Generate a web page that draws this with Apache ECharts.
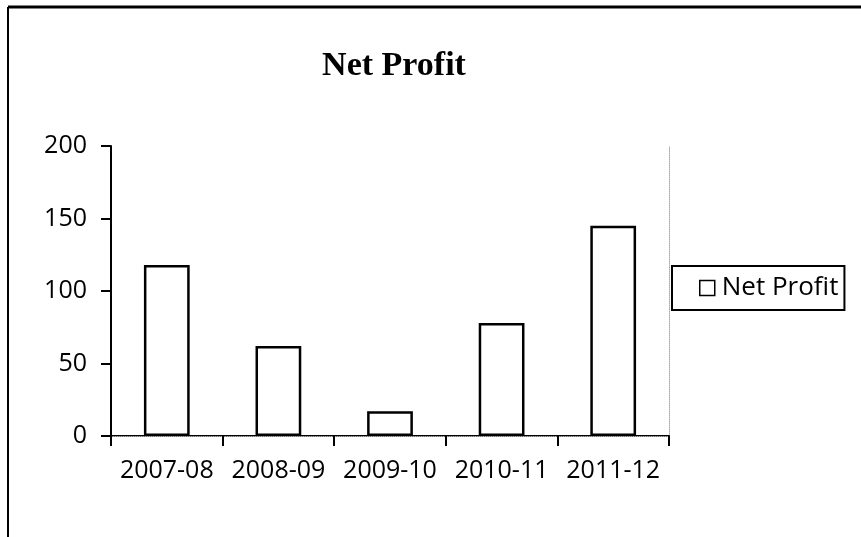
<!DOCTYPE html>
<html>
<head>
<meta charset="utf-8">
<script src="https://cdn.jsdelivr.net/npm/echarts@6/dist/echarts.min.js"></script>
<style>
html,body{margin:0;padding:0;background:#fff;}
#chart{position:absolute;left:0;top:0;width:861px;height:537px;}
</style>
</head>
<body>
<div id="chart"></div>
<script>
const categories = ['2007-08', '2008-09', '2009-10', '2010-11', '2011-12'];
const netProfit = [118, 62, 17, 78, 145];
const yTicks = [0, 50, 100, 150, 200];
const seriesName = 'Net Profit';
const titleText = 'Net Profit';

const chart = echarts.init(document.getElementById('chart'), null, {renderer: 'canvas'});
const labelFont = 'Open Sans';
chart.setOption({
  backgroundColor: '#fff',
  animation: false,
  title: {
    text: titleText,
    left: 389, top: 44, textAlign: 'center',
    textStyle: {fontFamily: 'Liberation Serif', fontWeight: 'bold', fontSize: 34, color: '#000'}
  },
  legend: {
    data: [seriesName],
    left: 672, top: 266,
    orient: 'vertical',
    icon: 'rect',
    itemWidth: 15, itemHeight: 15, itemGap: 6,
    padding: [9, 6, 9, 27],
    borderColor: '#000', borderWidth: 2,
    itemStyle: {color: '#fff', borderColor: '#000', borderWidth: 1.5},
    textStyle: {fontFamily: labelFont, fontSize: 26, color: '#000', padding: [0, 0, 0, 2]}
  },
  grid: {left: 111, right: 192, top: 146, bottom: 101, containLabel: false},
  xAxis: [{
    type: 'category', data: categories, position: 'bottom',
    axisLine: {lineStyle: {color: '#000', width: 2}},
    axisTick: {show: true, length: 10, lineStyle: {color: '#000', width: 2}},
    axisLabel: {fontFamily: labelFont, fontSize: 25, color: '#000', margin: 22, interval: 0, hideOverlap: false}
  }, {
    type: 'category', data: categories, position: 'top',
    axisLine: {lineStyle: {color: '#aaa', width: 1, type: 'dotted'}},
    axisTick: {show: false}, axisLabel: {show: false}
  }],
  yAxis: [{
    type: 'value', min: 0, max: 200, interval: 50, position: 'left',
    axisLine: {show: true, lineStyle: {color: '#000', width: 2}},
    axisTick: {show: true, length: 10, lineStyle: {color: '#000', width: 2}},
    splitLine: {show: false},
    axisLabel: {fontFamily: labelFont, fontSize: 25, color: '#000', margin: 24,
      formatter: v => yTicks.includes(v) ? String(v) : ''}
  }, {
    type: 'value', min: 0, max: 200, interval: 50, position: 'right',
    axisLine: {show: true, lineStyle: {color: '#aaa', width: 1, type: 'dotted'}},
    axisTick: {show: false}, axisLabel: {show: false}, splitLine: {show: false}
  }],
  series: [{
    name: seriesName, type: 'bar', data: netProfit,
    barWidth: '41%',
    itemStyle: {color: '#fff', borderColor: '#000', borderWidth: 2.5}
  }],
  graphic: [
    {type: 'line', shape: {x1: 8, y1: 7, x2: 8, y2: 537}, style: {stroke: '#000', lineWidth: 2}},
    {type: 'line', shape: {x1: 8, y1: 7, x2: 861, y2: 7}, style: {stroke: '#000', lineWidth: 3}}
  ]
});
</script>
</body>
</html>
